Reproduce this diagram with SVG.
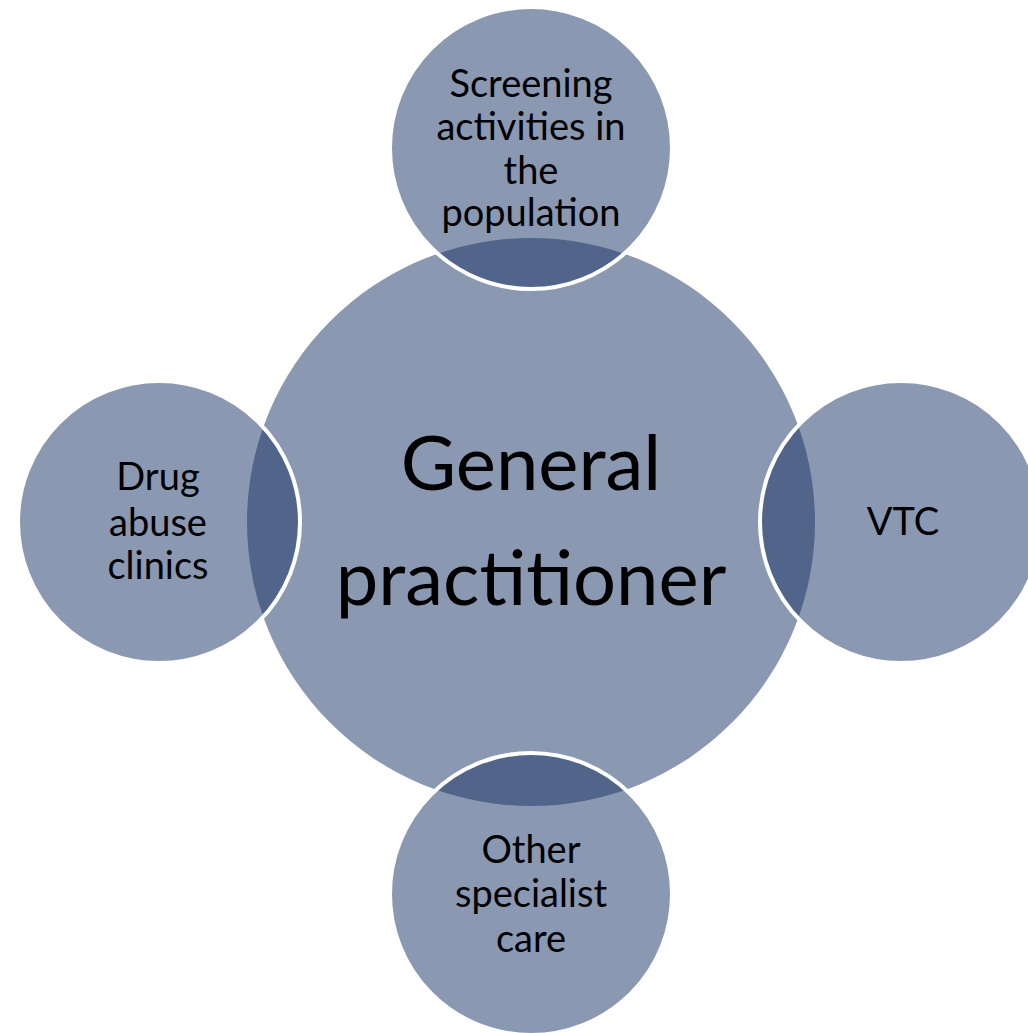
<svg xmlns="http://www.w3.org/2000/svg" width="1028" height="1033" viewBox="0 0 1028 1033">
  <style>
    .fill { fill: #8b98b1; }
    .lens { fill: #51648a; }
    .ring { fill: none; stroke: #ffffff; stroke-width: 4; }
    .lbl { font-family: Lato, "Liberation Sans", sans-serif; font-size: 38px; fill: #000000; text-anchor: middle; }
    .big { font-family: Lato, "Liberation Sans", sans-serif; font-size: 76px; fill: #000000; text-anchor: middle; }
  </style>
  <defs>
    <clipPath id="inBig">
      <circle cx="531" cy="522" r="284"/>
    </clipPath>
  </defs>
  <rect width="1028" height="1033" fill="#ffffff"/>
  <g id="node-gp">
    <circle class="fill" cx="531" cy="522" r="284"/>
  </g>
  <g id="connectors"></g>
  <g id="node-screening">
    <circle class="fill" cx="531" cy="148" r="141"/>
    <circle class="lens" cx="531" cy="148" r="141" clip-path="url(#inBig)"/>
    <circle class="ring" cx="531" cy="148" r="141"/>
    <text class="lbl" x="531" y="97">Screening</text>
    <text class="lbl" x="531" y="140">activities in</text>
    <text class="lbl" x="531" y="184">the</text>
    <text class="lbl" x="531" y="226">population</text>
  </g>
  <g id="node-drug">
    <circle class="fill" cx="159" cy="522" r="141"/>
    <circle class="lens" cx="159" cy="522" r="141" clip-path="url(#inBig)"/>
    <circle class="ring" cx="159" cy="522" r="141"/>
    <text class="lbl" x="158" y="490">Drug</text>
    <text class="lbl" x="158" y="536">abuse</text>
    <text class="lbl" x="158" y="579">clinics</text>
  </g>
  <g id="node-vtc">
    <circle class="fill" cx="901" cy="522" r="141"/>
    <circle class="lens" cx="901" cy="522" r="141" clip-path="url(#inBig)"/>
    <circle class="ring" cx="901" cy="522" r="141"/>
    <text class="lbl" x="903" y="535">VTC</text>
  </g>
  <g id="node-other">
    <circle class="fill" cx="531" cy="894" r="141"/>
    <circle class="lens" cx="531" cy="894" r="141" clip-path="url(#inBig)"/>
    <circle class="ring" cx="531" cy="894" r="141"/>
    <text class="lbl" x="531" y="863">Other</text>
    <text class="lbl" x="531" y="907">specialist</text>
    <text class="lbl" x="531" y="952">care</text>
  </g>
  <g id="node-gp-label">
    <text class="big" x="531" y="490">General</text>
    <text class="big" x="531" y="605">practitioner</text>
  </g>
</svg>
